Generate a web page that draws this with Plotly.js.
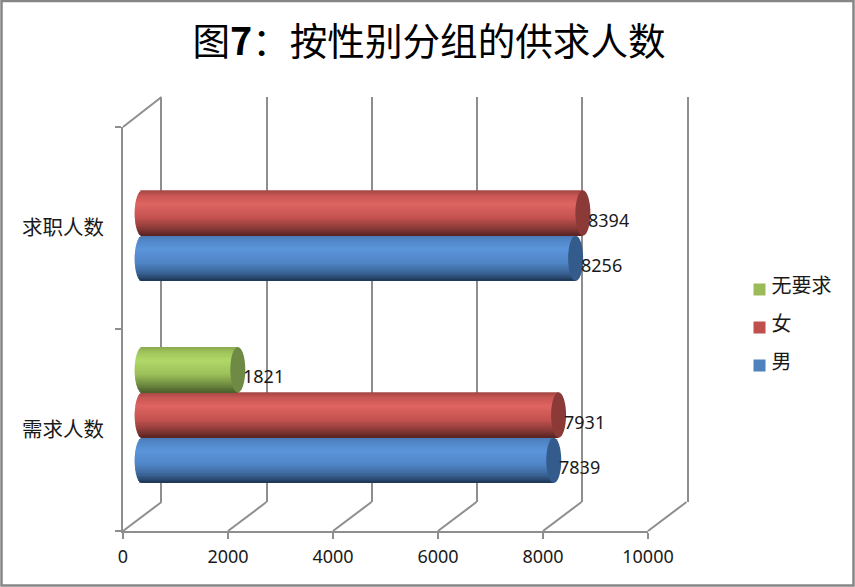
<!DOCTYPE html>
<html><head><meta charset="utf-8">
<script src="https://cdn.plot.ly/plotly-3.0.1.min.js"></script>
<style>html,body{margin:0;padding:0;background:#fff}</style></head>
<body><div id="chart" style="width:855px;height:587px"></div>
<script>
const categories = ['需求人数','求职人数'];
const male   = [7839, 8256];
const female = [7931, 8394];
const none   = [1821, null];
const seriesNames = ['男','女','无要求'];
const xTicks = [0,2000,4000,6000,8000,10000];
const legendColors = ['#4F81BD','#C0504D','#9BBB59'];
const capColors = ['#335B8C','#8C3A38','#6F8A45'];
const gradients = [
  [[0,'#4A79B3'],[.12,'#5288CA'],[.3,'#5B94DA'],[.6,'#5085C6'],[.82,'#3A6496'],[1,'#1D3655']],
  [[0,'#A24644'],[.12,'#C85654'],[.3,'#DE6461'],[.6,'#C55350'],[.82,'#8E3C3A'],[1,'#572321']],
  [[0,'#8AA94E'],[.12,'#A0C65C'],[.3,'#B0D868'],[.6,'#9CC05A'],[.82,'#728E42'],[1,'#4A5E2B']]
];
const FONT='"Noto Sans","Noto Sans CJK SC",sans-serif', CJK='"Noto Sans CJK SC",sans-serif';
const GREY='#8E8E8E', TXT='#1a1a1a';
const PX=855, PY=587, X=p=>p/PX, Y=p=>1-p/PY;
const unit=525/10000, a=7.5/unit, T=0.2244, N=32, lead=300;
const seriesValues=[male,female,none];
function hex(c){return [1,3,5].map(i=>parseInt(c.substr(i,2),16));}
function grad(stops,t){for(let i=1;i<stops.length;i++){if(t<=stops[i][0]){const[s0,c0]=stops[i-1],[s1,c1]=stops[i];const f=(t-s0)/(s1-s0),A=hex(c0),B=hex(c1);return 'rgb('+A.map((v,j)=>Math.round(v+(B[j]-v)*f)).join(',')+')';}}return stops[stops.length-1][1];}
const traces=[];
traces.push({type:'scatter',x:[null],y:[null],xaxis:'x',yaxis:'y',showlegend:false,hoverinfo:'skip'});
seriesValues.forEach((vals,k)=>{
  const pos=categories.map((c,i)=>i+0.5+(k-1)*T);
  for(let i=0;i<N;i++){
    const u=(i+0.5)/N*2-1, s=Math.sqrt(1-u*u), base=-a*s;
    const h=T/N, extra=i<N-1?h*0.6:0;
    traces.push({type:'bar',orientation:'h',xaxis:'x2',yaxis:'y2',y:pos,
      x:vals.map(v=>v===null?null:v-base),base:base,
      offset:T/2-(i+1)*h-extra,width:h+extra,
      marker:{color:grad(gradients[k],(i+0.5)/N),line:{width:0}},showlegend:false,hoverinfo:'skip'});
  }
  traces.push({type:'bar',orientation:'h',xaxis:'x2',yaxis:'y2',x:[null],y:[null],name:seriesNames[k],
    legendgroup:seriesNames[k],legendrank:3-k,marker:{color:legendColors[k]},showlegend:true,hoverinfo:'skip'});
});
traces.push({type:'scatter',x:[null],y:[null],xaxis:'x3',yaxis:'y3',showlegend:false,hoverinfo:'skip'});
traces.push({type:'scatter',x:[null],y:[null],xaxis:'x3',yaxis:'y4',showlegend:false,hoverinfo:'skip'});

const shapes=[];
const grey={color:GREY,width:2};
shapes.push({type:'rect',xref:'paper',yref:'paper',x0:X(1.5),x1:X(853.5),y0:Y(1),y1:Y(585.5),line:{color:'#868686',width:2.5},layer:'below'});
xTicks.forEach(t=>{const px=123+t*unit;
  shapes.push({type:'line',xref:'paper',yref:'paper',x0:X(px),x1:X(px+38.5),y0:Y(531),y1:Y(502),line:grey,layer:'below'});});
shapes.push({type:'line',xref:'paper',yref:'paper',x0:X(123),x1:X(161.5),y0:Y(127),y1:Y(97),line:grey,layer:'below'});
const ann=[];
seriesValues.forEach((vals,k)=>vals.forEach((v,i)=>{
  if(v===null)return; const y=i+0.5+(k-1)*T;
  shapes.push({type:'circle',xref:'x2',yref:'y2',xsizemode:'pixel',ysizemode:'pixel',xanchor:v,yanchor:y,
    x0:-7.5,x1:7.5,y0:-22.7,y1:22.7,fillcolor:capColors[k],line:{width:0},layer:'above'});
  ann.push({xref:'x2',yref:'y2',x:v,y:y,text:String(v),showarrow:false,xanchor:'left',yanchor:'middle',
    xshift:4,yshift:-6.5,borderpad:0,font:{family:FONT,size:18,color:TXT}});
}));
const xdom=(l)=>[X(l),X(l+525)], ydom=(top,bot)=>[Y(bot),Y(top)];
const layout={
  width:PX,height:PY,autosize:false,paper_bgcolor:'#fff',plot_bgcolor:'rgba(0,0,0,0)',
  margin:{l:0,r:0,t:0,b:0,pad:0,autoexpand:false},barmode:'overlay',
  title:{text:'图<b>7</b>：按性别分组的供求人数',x:X(429),y:Y(42),xanchor:'center',yanchor:'middle',xref:'paper',yref:'paper',
    font:{family:CJK,size:37.6,color:'#000'}},
  xaxis:{domain:xdom(161.5),range:[0,10000],anchor:'y',tickvals:xTicks,showticklabels:false,ticks:'',showgrid:true,gridcolor:GREY,gridwidth:2,zeroline:false,showline:false},
  yaxis:{domain:ydom(97,502),range:[0,2],anchor:'x',showticklabels:false,ticks:'',showgrid:false,zeroline:false,showline:true,mirror:true,linecolor:GREY,linewidth:2},
  xaxis2:{domain:[X(142.2-lead*unit),X(142.2+525)],range:[-lead,10000],anchor:'y2',visible:false},
  yaxis2:{domain:ydom(112,516),range:[0,2],anchor:'x2',visible:false},
  xaxis3:{domain:xdom(123),range:[0,10000],anchor:'y3',side:'bottom',tickvals:xTicks,ticktext:xTicks.map(String),ticks:'outside',ticklen:6,tickwidth:2,tickcolor:GREY,ticklabelstandoff:2,
    showline:true,linecolor:GREY,linewidth:2,showgrid:false,zeroline:false,tickfont:{family:FONT,size:18,color:TXT}},
  yaxis3:{domain:ydom(127,531),range:[0,2],anchor:'x3',tickvals:[0,1,2],showticklabels:false,ticks:'outside',ticklen:6,tickwidth:2,tickcolor:GREY,
    showline:true,linecolor:GREY,linewidth:2,showgrid:false,zeroline:false},
  yaxis4:{domain:ydom(127,531),range:[0,2],anchor:'x3',tickvals:[0.5,1.5],ticktext:categories,ticks:'outside',ticklen:14,tickcolor:'rgba(0,0,0,0)',
    showline:false,showgrid:false,zeroline:false,tickfont:{family:CJK,size:20.5,color:TXT}},
  legend:{x:X(739.5),y:Y(270),xanchor:'left',yanchor:'top',tracegroupgap:9,bgcolor:'rgba(0,0,0,0)',
    font:{family:CJK,size:20,color:TXT}},
  shapes:shapes,annotations:ann
};
Plotly.newPlot('chart',traces,layout,{displayModeBar:false}).then(gd=>{
  gd.querySelectorAll('.legendtext').forEach(t=>{
    t.setAttribute('x',parseFloat(t.getAttribute('x'))-8);
    t.setAttribute('y',parseFloat(t.getAttribute('y'))-4);
  });
});
</script></body></html>
